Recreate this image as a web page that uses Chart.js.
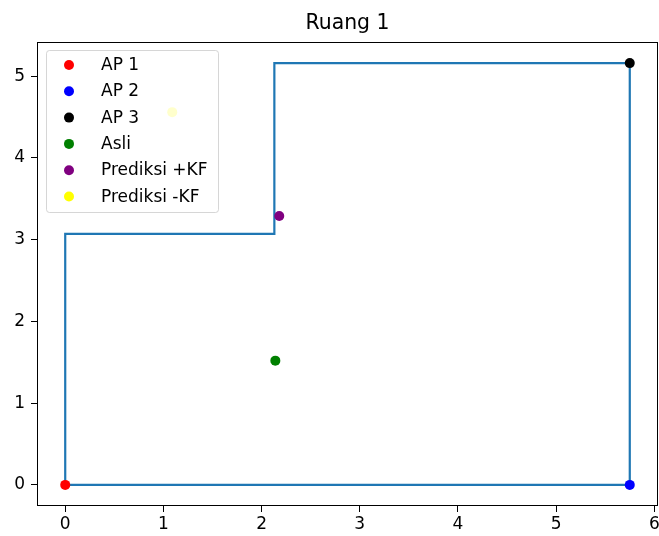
<!DOCTYPE html>
<html>
<head>
<meta charset="utf-8">
<title>Ruang 1</title>
<script src="https://cdn.jsdelivr.net/npm/chart.js@4.4.1/dist/chart.umd.min.js"></script>
<style>
    html, body { margin: 0; padding: 0; background: #fff; overflow: hidden; }
    #wrap { width: 659px; height: 536px; overflow: hidden; }
</style>
</head>
<body>
<!-- canvas is a few px wider than the window so the last x label gets cut like in the original -->
<div id="wrap"><canvas id="roomChart" width="663" height="536"></canvas></div>
<script>
// Room outline
const roomX = [0, 0, 2.13, 2.13, 5.75, 5.75, 0];
const roomY = [0, 3.07, 3.07, 5.16, 5.16, 0, 0];

// Scatter points (one per legend entry)
const pointLabels = ['AP 1', 'AP 2', 'AP 3', 'Asli', 'Prediksi +KF', 'Prediksi -KF'];
const pointX = [0, 5.75, 5.75, 2.14, 2.18, 1.09];
const pointY = [0, 0, 5.16, 1.52, 3.29, 4.56];
const pointColors = ['#ff0000', '#0000ff', '#000000', '#008000', '#800080', '#ffff00'];

const xTicks = [0, 1, 2, 3, 4, 5, 6];
const yTicks = [0, 1, 2, 3, 4, 5];

const FONT = 'DejaVu Sans';

// Title, axes frame and matplotlib-like legend
const decorPlugin = {
    id: 'decor',
    afterDatasetsDraw(chart) {
        const ctx = chart.ctx;
        const a = chart.chartArea;
        ctx.save();

        // frame
        ctx.strokeStyle = '#000';
        ctx.lineWidth = 1;
        ctx.strokeRect(Math.round(a.left) + 0.5, Math.round(a.top) + 0.5,
            Math.round(a.right - a.left) - 1, Math.round(a.bottom - a.top) - 1);

        // title
        ctx.fillStyle = '#000';
        ctx.font = '20.4px "' + FONT + '"';
        ctx.textAlign = 'center';
        ctx.textBaseline = 'alphabetic';
        ctx.fillText('Ruang 1', (a.left + a.right) / 2, 29);

        // legend
        const bx = a.left + 9, by = a.top + 8, bw = 172, bh = 162;
        ctx.beginPath();
        ctx.roundRect(bx + 0.5, by + 0.5, bw, bh, 3);
        ctx.fillStyle = 'rgba(255,255,255,0.8)';
        ctx.fill();
        ctx.strokeStyle = 'rgba(204,204,204,0.8)';
        ctx.stroke();

        const legendSets = chart.data.datasets.filter(d => d.inLegend);
        ctx.font = '17px "' + FONT + '"';
        ctx.textAlign = 'left';
        legendSets.forEach((ds, i) => {
            const cy = by + 15 + i * 26.3;
            ctx.beginPath();
            ctx.arc(bx + 23, cy, 5, 0, Math.PI * 2);
            ctx.fillStyle = ds.backgroundColor;
            ctx.fill();
            ctx.fillStyle = '#000';
            ctx.fillText(ds.label, bx + 55, cy + 5);
        });
        ctx.restore();
    }
};

document.addEventListener('DOMContentLoaded', function() {
    const ctx = document.getElementById('roomChart').getContext('2d');

    const datasets = [{
        label: 'room',
        data: roomX.map((x, i) => ({ x: x, y: roomY[i] })),
        showLine: true,
        borderColor: '#1f77b4',
        borderWidth: 2.2,
        pointRadius: 0,
        tension: 0,
        fill: false,
        order: 10
    }];

    pointLabels.forEach((label, i) => {
        datasets.push({
            label: label,
            inLegend: true,
            data: [{ x: pointX[i], y: pointY[i] }],
            backgroundColor: pointColors[i],
            borderColor: pointColors[i],
            borderWidth: 0,
            pointRadius: 5,
            order: 0
        });
    });

    new Chart(ctx, {
        type: 'scatter',
        data: { datasets: datasets },
        plugins: [decorPlugin],
        options: {
            responsive: false,
            animation: false,
            layout: { padding: { top: 42, right: 0, left: 0, bottom: 0 } },
            plugins: {
                legend: { display: false },
                title: { display: false },
                tooltip: { enabled: false }
            },
            scales: {
                x: {
                    type: 'linear',
                    min: -0.2875,
                    max: 6.0375,
                    afterBuildTicks: s => { s.ticks = xTicks.map(v => ({ value: v })); },
                    afterFit: s => { s.height = 30; },
                    border: { display: false },
                    grid: { drawOnChartArea: false, drawTicks: true, tickLength: 6, tickColor: '#000' },
                    ticks: { color: '#000', padding: 2, maxRotation: 0, font: { family: FONT, size: 17 } }
                },
                y: {
                    type: 'linear',
                    min: -0.258,
                    max: 5.418,
                    afterBuildTicks: s => { s.ticks = yTicks.map(v => ({ value: v })); },
                    afterFit: s => { s.width = 37; },
                    border: { display: false },
                    grid: { drawOnChartArea: false, drawTicks: true, tickLength: 6, tickColor: '#000' },
                    ticks: { color: '#000', padding: 6, font: { family: FONT, size: 17 } }
                }
            }
        }
    });
});
</script>
</body>
</html>
